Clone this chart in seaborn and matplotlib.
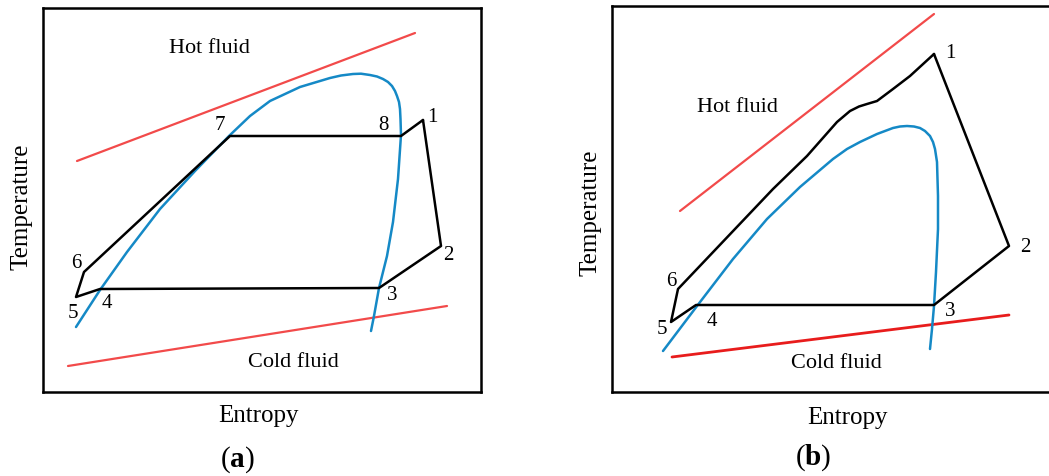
import matplotlib
matplotlib.use("Agg")
import matplotlib.pyplot as plt
import seaborn as sns

# ---- panel (a): entropy / temperature in arbitrary units ----
a_cycle_s = [380, 398, 336, 57, 33, 41, 187, 358, 380]
a_cycle_T = [272, 146, 104, 103, 95, 120, 256, 256, 272]
a_states = ["1", "2", "3", "4", "5", "6", "7", "8"]

a_dome_s = [33, 57, 84, 117, 152, 186, 207, 227, 257, 287, 298, 310, 318, 327,
            334, 340, 345, 349, 352, 354, 356, 357, 357.5, 358, 355, 350, 344,
            336, 331, 328]
a_dome_T = [65, 102, 140, 183, 221, 256, 276, 291, 305, 314, 316.5, 318, 318.3,
            317, 315.5, 313, 310, 306, 301, 296, 290, 283, 273, 257, 213, 170,
            136, 104, 76, 61]

a_hot_s, a_hot_T = [34, 372], [231, 359]
a_cold_s, a_cold_T = [25, 404], [26, 86]

# ---- panel (b) ----
b_cycle_s = [322, 397, 322, 84, 59, 66, 161, 195, 225, 238, 247, 255, 265, 281,
             298, 322]
b_cycle_T = [338, 146, 87, 87, 70, 103, 203, 236, 270, 281, 285.5, 288, 291,
             303, 316, 338]
b_states = ["1", "2", "3", "4", "5", "6"]

b_dome_s = [51, 85, 121, 155, 188, 221, 235, 248, 265, 281, 288, 295, 302, 308,
            313, 318, 321, 323, 325, 326, 326, 324, 322, 320, 318]
b_dome_T = [41, 86, 133, 173, 205, 233, 243, 250, 258, 264, 265.5, 266, 265.5,
            264, 261, 256, 250, 243, 230, 196, 163, 120, 86, 63, 43]

b_hot_s, b_hot_T = [68, 322], [181, 378]
b_cold_s, b_cold_T = [60, 397], [35, 77]

sns.set_theme(style="white")
plt.rcParams["font.family"] = ["Liberation Serif", "DejaVu Serif"]
plt.rcParams["text.color"] = "black"
plt.rcParams["mathtext.fontset"] = "custom"
plt.rcParams["mathtext.rm"] = "Liberation Serif"
plt.rcParams["mathtext.bf"] = "Liberation Serif:bold"

W, H = 1049, 477
fig = plt.figure(figsize=(W / 100, H / 100), dpi=100)
ax_a = fig.add_axes([43 / W, (H - 393) / H, 438 / W, 384 / H])
ax_b = fig.add_axes([612 / W, (H - 393) / H, 440 / W, 386 / H])

RED = "#f24a4a"
BLUE = "#1589c6"


def line(ax, x, y, color, lw):
    sns.lineplot(x=x, y=y, sort=False, estimator=None, color=color,
                 linewidth=lw, ax=ax)


# (a)
line(ax_a, a_hot_s, a_hot_T, RED, 1.6)
line(ax_a, a_cold_s, a_cold_T, RED, 1.6)
line(ax_a, a_dome_s, a_dome_T, BLUE, 1.8)
line(ax_a, a_cycle_s, a_cycle_T, "black", 1.8)
a_offsets = [(9, 3), (7, -8), (13, -6), (7, -14), (-3, -15), (-8, 10), (-10, 12), (-18, 12)]
for lab, s, t, off in zip(a_states, a_cycle_s, a_cycle_T, a_offsets):
    ax_a.annotate(lab, (s, t), xytext=off, textcoords="offset pixels",
                  ha="center", va="center", fontsize=15)
ax_a.set_xlim(0, 438)
ax_a.set_ylim(0, 384)
ax_a.text(0.381, 0.898, "Hot fluid", transform=ax_a.transAxes, ha="center",
          va="center", fontsize=16)
ax_a.text(0.571, 0.080, "Cold fluid", transform=ax_a.transAxes, ha="center",
          va="center", fontsize=16)
ax_a.text(-0.048, 0.484, "Temperature", transform=ax_a.transAxes, ha="center",
          va="center", rotation=90, fontsize=18)
ax_a.text(0.491, -0.060, "Entropy", transform=ax_a.transAxes, ha="center",
          va="center", fontsize=18)
ax_a.text(0.443, -0.174, r"($\mathbf{a}$)", transform=ax_a.transAxes,
          ha="center", va="center", fontsize=21)

# (b)
line(ax_b, b_hot_s, b_hot_T, RED, 1.6)
line(ax_b, b_cold_s, b_cold_T, "#e81c1c", 2.0)
line(ax_b, b_dome_s, b_dome_T, BLUE, 1.8)
line(ax_b, b_cycle_s, b_cycle_T, "black", 1.8)
b_offsets = [(16, 1), (16, 0), (16, -6), (16, -16), (-9, -7), (-7, 8)]
for lab, s, t, off in zip(b_states, b_cycle_s, b_cycle_T, b_offsets):
    ax_b.annotate(lab, (s, t), xytext=off, textcoords="offset pixels",
                  ha="center", va="center", fontsize=15)
ax_b.set_xlim(0, 440)
ax_b.set_ylim(0, 386)
ax_b.text(0.284, 0.740, "Hot fluid", transform=ax_b.transAxes, ha="center",
          va="center", fontsize=16)
ax_b.text(0.511, 0.077, "Cold fluid", transform=ax_b.transAxes, ha="center",
          va="center", fontsize=16)
ax_b.text(-0.050, 0.466, "Temperature", transform=ax_b.transAxes, ha="center",
          va="center", rotation=90, fontsize=18)
ax_b.text(0.536, -0.065, "Entropy", transform=ax_b.transAxes, ha="center",
          va="center", fontsize=18)
ax_b.text(0.457, -0.168, r"($\mathbf{b}$)", transform=ax_b.transAxes,
          ha="center", va="center", fontsize=21)

for ax in (ax_a, ax_b):
    ax.set_xticks([])
    ax.set_yticks([])
    ax.set_xlabel("")
    ax.set_ylabel("")
    for sp in ax.spines.values():
        sp.set_visible(True)
        sp.set_color("black")
        sp.set_linewidth(1.8)

fig.savefig("out.png", dpi=100)
